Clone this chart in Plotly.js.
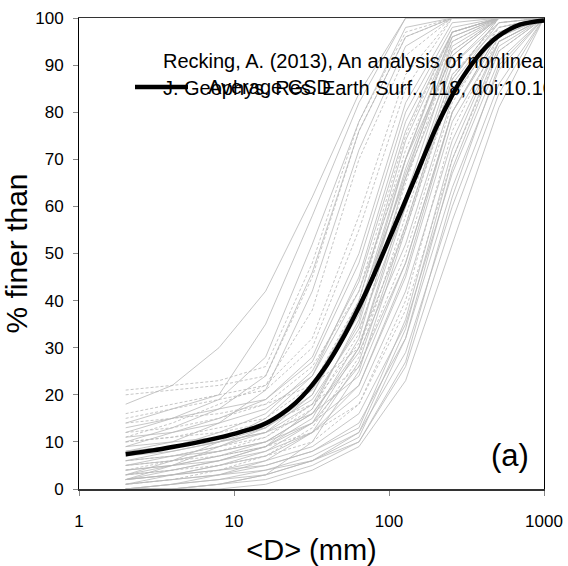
<!DOCTYPE html>
<html>
<head>
<meta charset="utf-8">
<script src="https://cdn.plot.ly/plotly-3.0.1.min.js"></script>
<style>html,body{margin:0;padding:0;background:#fff;}#chart{width:568px;height:566px;}</style>
</head>
<body>
<div id="chart"></div>
<script>
// Sieve sizes (mm) shared by the individual grain size distributions
const sieveSizes = [2, 4, 8, 16, 32, 64, 128, 256, 512, 1000];

// Individual GSD curves: % finer at each sieve size
const gsdCurves = [
  [18, 22, 30, 42, 62, 84, 100, 100, 100, 100],
  [14, 17, 20, 35, 58, 82, 100, 100, 100, 100],
  [12, 15, 19, 28, 52, 78, 98, 100, 100, 100],
  [21, 22, 23, 26, 48, 78, 97, 100, 100, 100],
  [20, 21, 22, 24, 45, 76, 96, 100, 100, 100],
  [10, 13, 17, 24, 46, 76, 96, 100, 100, 100],
  [16, 18, 20, 22, 38, 70, 92, 100, 100, 100],
  [8, 10, 14, 21, 42, 72, 94, 100, 100, 100],
  [15, 17, 19, 21, 30, 55, 85, 100, 100, 100],
  [13, 15, 17, 19, 27, 48, 80, 98, 100, 100],
  [11, 12, 14, 17, 24, 45, 78, 97, 100, 100],
  [10, 11, 13, 15, 22, 40, 72, 95, 100, 100],
  [9, 10, 11, 13, 20, 38, 70, 96, 100, 100],
  [7, 8, 10, 12, 18, 35, 68, 94, 100, 100],
  [6, 7, 9, 11, 17, 33, 65, 93, 100, 100],
  [5, 6, 8, 10, 16, 30, 62, 92, 100, 100],
  [4, 5, 7, 9, 15, 32, 66, 95, 100, 100],
  [3, 4, 6, 9, 17, 36, 70, 97, 100, 100],
  [2, 3, 5, 8, 14, 30, 60, 90, 100, 100],
  [1, 2, 4, 7, 13, 28, 58, 88, 99, 100],
  [0, 1, 3, 6, 12, 27, 56, 87, 100, 100],
  [0, 0, 1, 3, 10, 25, 55, 86, 99, 100],
  [12, 13, 15, 18, 26, 42, 75, 97, 100, 100],
  [8, 9, 11, 14, 21, 37, 67, 93, 100, 100],
  [6, 8, 10, 13, 19, 34, 60, 88, 98, 100],
  [4, 6, 8, 11, 18, 31, 55, 85, 98, 100],
  [3, 5, 7, 10, 16, 29, 52, 83, 97, 100],
  [2, 4, 6, 9, 14, 26, 48, 80, 96, 100],
  [1, 3, 5, 7, 12, 22, 45, 78, 95, 100],
  [5, 7, 9, 12, 20, 40, 74, 96, 100, 100],
  [7, 9, 12, 16, 25, 44, 76, 97, 100, 100],
  [9, 12, 15, 19, 28, 50, 82, 99, 100, 100],
  [11, 14, 18, 22, 32, 58, 88, 100, 100, 100],
  [3, 6, 10, 15, 24, 42, 70, 92, 100, 100],
  [2, 5, 9, 13, 22, 39, 66, 90, 99, 100],
  [4, 5, 6, 8, 12, 20, 42, 74, 95, 100],
  [3, 4, 5, 7, 10, 18, 38, 70, 93, 100],
  [2, 3, 4, 6, 9, 16, 35, 67, 91, 100],
  [1, 2, 3, 5, 8, 14, 32, 64, 89, 100],
  [0, 1, 2, 4, 7, 12, 29, 60, 86, 100],
  [0, 0, 1, 2, 5, 10, 26, 57, 84, 100],
  [0, 0, 0, 1, 4, 9, 23, 52, 81, 100],
  [1, 2, 3, 4, 6, 10, 27, 62, 90, 100],
  [5, 6, 7, 9, 12, 18, 40, 76, 96, 100],
  [6, 7, 8, 10, 14, 22, 46, 80, 97, 100],
  [2, 3, 4, 5, 8, 13, 36, 72, 95, 100],
  [0, 1, 2, 3, 6, 11, 32, 68, 93, 100],
  [10, 11, 12, 14, 18, 26, 50, 82, 98, 100],
  [8, 9, 10, 12, 16, 24, 48, 80, 97, 100],
  [14, 15, 16, 18, 22, 30, 56, 87, 100, 100],
  [0, 0, 1, 3, 6, 12, 34, 70, 94, 100]
];
// Which curves are drawn dashed
const dashedCurves = [3, 4, 6, 8, 11, 14, 19, 22, 25, 32, 36, 43, 47, 49];

// Average GSD
const avgD = [2, 3, 4, 6, 8, 10, 15, 20, 25, 30, 40, 50, 60, 70, 80, 100, 125, 150, 200, 250, 300, 400, 500, 700, 1000];
const avgP = [7.4, 8.2, 8.9, 10.0, 10.9, 11.7, 13.5, 15.8, 18.3, 21, 26.5, 31.8, 36.8, 41.3, 45.5, 53, 60.5, 66.7, 76.5, 83, 87.5, 93, 96, 98.6, 99.5];

// Legend entry
const legendLabel = "Average GSD";

// Citation text
const citationLines = [
  "Recking, A. (2013), An analysis of nonlinearity effects on bed load transport prediction,",
  "J. Geophys. Res. Earth Surf., 118, doi:10.1002/jgrf.20090."
];
const citationX = [3.48, 3.48];
const citationY = [90.5, 84.8];

const xTicks = [1, 10, 100, 1000];
const xTickText = ["1", "10", "100", "1000"];

const FONT = "Liberation Sans, Arial, sans-serif";

const traces = [];
gsdCurves.forEach((p, i) => {
  traces.push({
    x: sieveSizes, y: p, type: "scatter", mode: "lines",
    line: {color: "#b8b8b8", width: 0.8, dash: dashedCurves.includes(i) ? "3px,2px" : "solid"},
    showlegend: false, hoverinfo: "skip"
  });
});
traces.push({
  x: citationX, y: citationY, text: citationLines, type: "scatter", mode: "text",
  textposition: "middle right", cliponaxis: true,
  textfont: {family: FONT, size: 20, color: "#000"},
  showlegend: false, hoverinfo: "skip"
});
traces.push({
  x: avgD, y: avgP, type: "scatter", mode: "lines", name: legendLabel,
  line: {color: "#000", width: 4.5, shape: "spline", smoothing: 0.8}, showlegend: false
});

// legend sample placed in paper coordinates (px -> paper fraction)
const plotL = 79, plotW = 465, plotT = 18, plotH = 471;
const px = v => (v - plotL) / plotW;
const py = v => 1 - (v - plotT) / plotH;

const layout = {
  width: 568, height: 566,
  margin: {l: 79, r: 24, t: 18, b: 77},
  paper_bgcolor: "#fff", plot_bgcolor: "#fff",
  font: {family: FONT, color: "#000"},
  showlegend: false,
  xaxis: {
    type: "log", range: [0, 3],
    tickvals: xTicks, ticktext: xTickText,
    ticks: "outside", ticklen: 5, tickcolor: "#888", tickwidth: 1,
    ticklabelstandoff: 11,
    showline: true, mirror: true, linecolor: "#333", linewidth: 1.5,
    showgrid: false, zeroline: false,
    tickfont: {family: FONT, size: 17, color: "#000"},
    title: {text: "&lt;D&gt; (mm)", font: {family: FONT, size: 29, color: "#000"}, standoff: 10}
  },
  yaxis: {
    range: [0, 100], dtick: 10, tick0: 0,
    ticks: "outside", ticklen: 5, tickcolor: "#888", tickwidth: 1,
    ticklabelstandoff: 6,
    showline: true, mirror: true, linecolor: "#000", linewidth: 1,
    showgrid: false, zeroline: false,
    tickfont: {family: FONT, size: 17, color: "#000"},
    title: {text: "% finer than", font: {family: FONT, size: 30, color: "#000"}, standoff: 8}
  },
  shapes: [{
    type: "line", xref: "paper", yref: "paper",
    x0: px(135), x1: px(188), y0: py(87), y1: py(87),
    line: {color: "#000", width: 4.5}
  }],
  annotations: [
    {
      text: legendLabel, xref: "paper", yref: "paper", x: px(206), y: py(87),
      xanchor: "left", yanchor: "middle", showarrow: false,
      font: {family: FONT, size: 20, color: "#000"}
    },
    {
      text: "(a)", xref: "paper", yref: "paper", x: 0.927, y: 0.072,
      xanchor: "center", yanchor: "middle", showarrow: false,
      font: {family: FONT, size: 31, color: "#000"}
    }
  ]
};

Plotly.newPlot("chart", traces, layout, {displayModeBar: false, staticPlot: true});
</script>
</body>
</html>
